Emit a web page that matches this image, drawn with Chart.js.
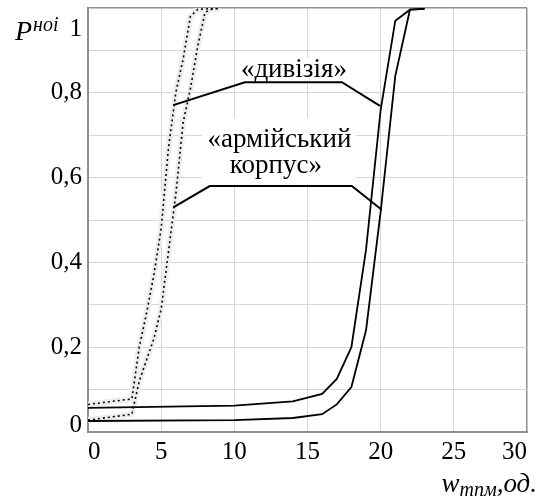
<!DOCTYPE html>
<html>
<head>
<meta charset="utf-8">
<script src="https://cdn.jsdelivr.net/npm/chart.js@4.4.1/dist/chart.umd.min.js"></script>
<style>
  html, body { margin: 0; padding: 0; background: #fff; }
  #wrap { width: 542px; height: 497px; }
</style>
</head>
<body>
<div id="wrap"><canvas id="chart"></canvas></div>
<script>
// Readings of P(нoi) against w(тпм)
const divDottedW = [0, 3, 3.5, 4, 4.5, 5, 5.5, 6, 6.5, 7, 7.5, 8, 9];
const divDottedP = [0.065, 0.078, 0.2, 0.28, 0.37, 0.48, 0.67, 0.8, 0.88, 0.98, 0.997, 0.998, 0.999];

const corpDottedW = [0, 3, 3.5, 4, 4.5, 5, 6, 6.5, 7, 7.5, 8, 8.5, 9];
const corpDottedP = [0.028, 0.042, 0.12, 0.17, 0.22, 0.29, 0.56, 0.73, 0.81, 0.91, 0.99, 0.998, 0.999];

const divSolidW = [0, 10, 14, 16, 17, 18, 19, 20, 21, 22, 23];
const divSolidP = [0.057, 0.062, 0.072, 0.09, 0.125, 0.2, 0.43, 0.76, 0.97, 0.996, 0.998];

const corpSolidW = [0, 10, 14, 16, 17, 18, 19, 20, 21, 22, 23];
const corpSolidP = [0.026, 0.028, 0.033, 0.042, 0.065, 0.106, 0.24, 0.52, 0.84, 0.996, 0.998];

// Tick labels
const xTickValues = [0, 5, 10, 15, 20, 25, 30];
const xTickLabels = ['0', '5', '10', '15', '20', '25', '30'];
const yTickValues = [0, 0.2, 0.4, 0.6, 0.8, 1];
const yTickLabels = ['0', '0,2', '0,4', '0,6', '0,8', '1'];

// Annotation text
const divLabel = '«дивізія»';
const corpLabel = ['«армійський', 'корпус»'];

const SERIF = "'Liberation Serif', 'Times New Roman', serif";
const GRID = '#d6d6d6';
const FRAME = '#8f8f8f';

// where labels sit and where the leaders touch the curves (data units)
const labelLayout = {
  boxes: [
    { x0: 10.26, x1: 17.9, y0: 0.882, y1: 0.828 },
    { x0: 7.78, x1: 18.31, y0: 0.741, y1: 0.585 }
  ],
  texts: [
    { text: divLabel, x: 14.07, y: 0.837 },
    { text: corpLabel[0], x: 13.08, y: 0.672 },
    { text: corpLabel[1], x: 12.84, y: 0.611 }
  ],
  leaders: [
    [[5.83, 0.771], [10.72, 0.825], [17.35, 0.825], [19.95, 0.769]],
    [[5.83, 0.53], [8.32, 0.58], [18.03, 0.58], [20.07, 0.524]]
  ]
};

function toPoints(xs, ys) {
  return xs.map((v, i) => ({ x: v, y: ys[i] }));
}

function curve(label, xs, ys, dotted) {
  return {
    label: label,
    data: toPoints(xs, ys),
    borderColor: '#000',
    borderWidth: dotted ? 1.6 : 1.8,
    borderDash: dotted ? [2, 3] : [],
    pointRadius: 0,
    tension: 0,
    fill: false,
    order: 1
  };
}

// light grey band that sits under the dotted curves
function halo(label, xs, ys) {
  return {
    label: label,
    data: toPoints(xs, ys),
    borderColor: '#eeeeee',
    borderWidth: 6,
    pointRadius: 0,
    tension: 0,
    fill: false,
    order: 2
  };
}

function labelFor(values, labels, v) {
  const i = values.findIndex(t => Math.abs(t - v) < 1e-6);
  return i < 0 ? '' : labels[i];
}

const annotationPlugin = {
  id: 'annotationPlugin',
  beforeDatasetsDraw(chart) {
    const { ctx, scales: { x, y } } = chart;
    ctx.save();
    ctx.fillStyle = '#ffffff';
    labelLayout.boxes.forEach(b => {
      const left = x.getPixelForValue(b.x0);
      const right = x.getPixelForValue(b.x1);
      const top = y.getPixelForValue(b.y0);
      const bottom = y.getPixelForValue(b.y1);
      ctx.fillRect(left, top, right - left, bottom - top);
    });
    ctx.restore();
  },
  afterDatasetsDraw(chart) {
    const { ctx, scales: { x, y } } = chart;
    ctx.save();
    ctx.strokeStyle = '#000';
    ctx.lineWidth = 2;
    labelLayout.leaders.forEach(path => {
      ctx.beginPath();
      path.forEach((p, i) => {
        const px = x.getPixelForValue(p[0]);
        const py = y.getPixelForValue(p[1]);
        if (i === 0) ctx.moveTo(px, py); else ctx.lineTo(px, py);
      });
      ctx.stroke();
    });
    ctx.fillStyle = '#000';
    ctx.font = '27px ' + SERIF;
    ctx.textAlign = 'center';
    ctx.textBaseline = 'alphabetic';
    labelLayout.texts.forEach(t => {
      ctx.fillText(t.text, x.getPixelForValue(t.x), y.getPixelForValue(t.y));
    });
    ctx.restore();
  },
  afterDraw(chart) {
    const { ctx, chartArea } = chart;
    ctx.save();
    ctx.fillStyle = '#000';
    ctx.textBaseline = 'alphabetic';
    ctx.textAlign = 'left';

    // y title: P with superscript
    const py = chartArea.top + 32;
    ctx.font = 'italic 28px ' + SERIF;
    ctx.fillText('P', 15, py);
    const pw = ctx.measureText('P').width;
    ctx.font = 'italic 20px ' + SERIF;
    ctx.fillText('ноі', 15 + pw + 1, py - 9);

    // x title: w with subscript, right aligned
    const parts = [
      { t: 'w', f: 'italic 27px ' + SERIF, dy: 0 },
      { t: 'тпм', f: 'italic 20px ' + SERIF, dy: 4 },
      { t: ',од.', f: 'italic 27px ' + SERIF, dy: 0 }
    ];
    let total = 0;
    parts.forEach(p => { ctx.font = p.f; p.w = ctx.measureText(p.t).width; total += p.w; });
    let cx = chart.width - 5 - total;
    const by = chart.height - 5;
    parts.forEach(p => {
      ctx.font = p.f;
      ctx.fillText(p.t, cx, by + p.dy);
      cx += p.w;
    });
    ctx.restore();
  }
};

new Chart(document.getElementById('chart'), {
  type: 'line',
  data: {
    datasets: [
      curve('дивізія', divDottedW, divDottedP, true),
      curve('армійський корпус', corpDottedW, corpDottedP, true),
      curve('дивізія', divSolidW, divSolidP, false),
      curve('армійський корпус', corpSolidW, corpSolidP, false),
      halo('дивізія', divDottedW, divDottedP),
      halo('армійський корпус', corpDottedW, corpDottedP)
    ]
  },
  options: {
    responsive: true,
    maintainAspectRatio: false,
    animation: false,
    layout: { padding: { left: 0, top: 8, right: 15, bottom: 0 } },
    plugins: {
      legend: { display: false },
      tooltip: { enabled: false }
    },
    scales: {
      x: {
        type: 'linear',
        min: 0,
        max: 30,
        afterFit(scale) {
          scale.height = 65;
          scale.paddingLeft = 0;
          scale.paddingRight = 0;
        },
        ticks: {
          stepSize: 5,
          autoSkip: false,
          maxRotation: 0,
          align: 'inner',
          padding: 5,
          color: '#000',
          font: { family: SERIF, size: 25 },
          callback: v => labelFor(xTickValues, xTickLabels, v)
        },
        grid: {
          drawTicks: false,
          color: ctx => (ctx.tick && ctx.tick.value === 30 ? FRAME : GRID),
          lineWidth: ctx => (ctx.tick && ctx.tick.value === 30 ? 1.5 : 1)
        },
        border: { color: FRAME, width: 2 }
      },
      y: {
        min: 0,
        max: 1,
        afterFit(scale) {
          scale.width = 88;
          scale.paddingTop = 0;
          scale.paddingBottom = 0;
        },
        ticks: {
          stepSize: 0.1,
          autoSkip: false,
          padding: 6,
          color: '#000',
          // the end labels sit inside the frame, shifted by an empty line
          font: ctx => {
            const v = ctx.tick ? ctx.tick.value : 0.5;
            let lh = 1.2;
            if (Math.abs(v - 1) < 1e-6) lh = '42px';
            else if (Math.abs(v) < 1e-6) lh = '14px';
            return { family: SERIF, size: 25, lineHeight: lh };
          },
          callback: v => {
            const s = labelFor(yTickValues, yTickLabels, v);
            if (s === '1') return ['', s];
            if (s === '0') return [s, ''];
            return s;
          }
        },
        grid: {
          drawTicks: false,
          color: ctx => (ctx.tick && Math.abs(ctx.tick.value - 1) < 1e-6 ? FRAME : GRID),
          lineWidth: ctx => (ctx.tick && Math.abs(ctx.tick.value - 1) < 1e-6 ? 1.5 : 1)
        },
        border: { color: FRAME, width: 2 }
      }
    }
  },
  plugins: [annotationPlugin]
});
</script>
</body>
</html>
